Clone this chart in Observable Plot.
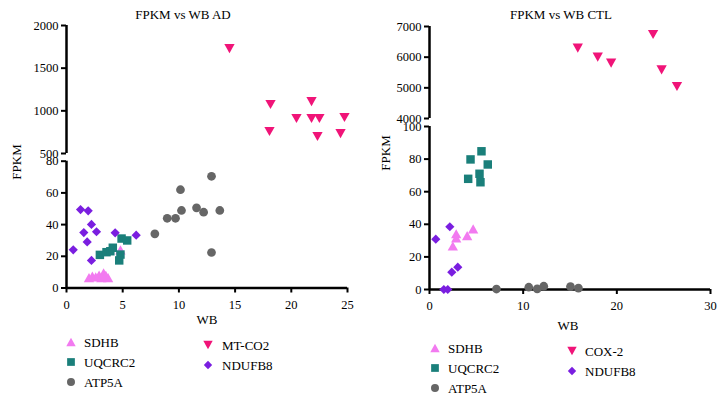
<!DOCTYPE html>
<html><head><meta charset="utf-8">
<script src="https://cdn.jsdelivr.net/npm/d3@7"></script>
<script src="https://cdn.jsdelivr.net/npm/@observablehq/plot@0.6"></script>
<style>
body{margin:0;background:#fff;}
#root{position:relative;width:724px;height:403px;font-family:'Liberation Serif','Times New Roman','DejaVu Serif',serif;color:#000;overflow:hidden;background:#fff;}
#root svg.seg{position:absolute;}
#root svg.seg text{font-family:'Liberation Serif','Times New Roman','DejaVu Serif',serif;}
.t{position:absolute;white-space:nowrap;line-height:1;}
.c{transform:translate(-50%,-50%);}
.r{transform:translate(-50%,-50%) rotate(-90deg);}
.l{transform:translate(0,-50%);}
</style>
</head><body><div id="root"></div>
<script>
// ---------- data (x = WB, y = FPKM) ----------
const adSDHB   = [[2.0,6.5],[2.3,7.5],[2.6,7],[2.9,8.2],[3.1,6.5],[3.3,9.5],[3.5,8],[3.7,6.5],[4.8,24]];
const adUQCRC2 = [[2.97,20.9],[3.56,22.6],[3.9,23.2],[4.12,25.4],[4.9,31.2],[5.4,30.0],[4.8,21.1],[4.69,17.4]];
const adATP5A  = [[12.9,70.5],[10.14,62.0],[10.23,48.9],[11.57,50.6],[12.2,47.8],[13.64,48.9],[8.96,44.0],[9.7,44.0],[7.86,34.2],[12.9,22.4]];
const adMTCO2  = [[14.5,1730],[18.15,1074],[18.06,758],[20.46,910],[21.8,1109],[21.8,910],[22.5,910],[22.33,699],[24.73,922],[24.38,734]];
const adNDUFB8 = [[0.6,24.1],[1.25,49.5],[1.93,48.7],[1.54,35.0],[1.84,29.1],[2.22,40.1],[2.67,35.5],[2.22,17.4],[4.33,34.8],[6.2,33.3]];

const ctlSDHB   = [[2.85,34.2],[2.85,31.7],[2.49,26.7],[4.02,33.1],[4.66,37.2]];
const ctlUQCRC2 = [[4.38,79.8],[5.55,84.8],[6.22,76.7],[4.13,67.9],[5.34,71.0],[5.44,65.8]];
const ctlATP5A  = [[7.15,0.3],[10.6,1.4],[11.5,0.4],[12.2,2.0],[15.05,1.8],[15.9,0.8]];
const ctlCOX2   = [[15.83,6293],[17.96,5999],[19.39,5803],[23.87,6739],[24.78,5588],[26.42,5044]];
const ctlNDUFB8 = [[0.67,30.9],[2.17,38.5],[2.38,10.6],[3.02,13.7],[1.53,0],[1.95,0]];

const adXTicks = [0,5,10,15,20,25];
const adYLowTicks = [0,20,40,60,80];
const adYHighTicks = [500,1000,1500,2000];
const ctlXTicks = [0,10,20,30];
const ctlYLowTicks = [0,20,40,60,80,100];
const ctlYHighTicks = [4000,5000,6000,7000];

const colors = {SDHB:"#f27af0", UQCRC2:"#1a7f7a", ATP5A:"#666666", MT:"#f01478", NDUFB8:"#7a1ee0"};
const FONT = "'Liberation Serif','Times New Roman','DejaVu Serif',serif";

// ---------- symbols ----------
function rOf(size){return Math.sqrt(size/Math.PI);}
const triUp = {draw(ctx,size){const r=rOf(size),w=r*1.12,h=r*2;ctx.moveTo(0,-h/2);ctx.lineTo(w,h/2);ctx.lineTo(-w,h/2);ctx.closePath();}};
const triDown = {draw(ctx,size){const r=rOf(size),w=r*1.12,h=r*2;ctx.moveTo(-w,-h/2);ctx.lineTo(w,-h/2);ctx.lineTo(0,h/2);ctx.closePath();}};
const square = {draw(ctx,size){const r=rOf(size),s=r*0.92;ctx.rect(-s,-s,2*s,2*s);}};
const circle = {draw(ctx,size){const r=rOf(size)*0.95;ctx.moveTo(r,0);ctx.arc(0,0,r,0,2*Math.PI);}};
const diamond = {draw(ctx,size){const r=rOf(size)*1.0;ctx.moveTo(0,-r);ctx.lineTo(r,0);ctx.lineTo(0,r);ctx.lineTo(-r,0);ctx.closePath();}};

const root = document.getElementById("root");

function segment(o){
  const inRange = d => d[1] >= o.yDomain[0] && d[1] <= o.yDomain[1];
  const fmt = d => String(d);
  const marks = [
    Plot.axisY(o.yTicks,{tickSize:5,tickPadding:3,strokeWidth:2,stroke:"#000",fill:"#000",label:null,tickFormat:fmt,fontFamily:FONT,fontSize:12.5}),
    Plot.ruleX([o.xDomain[0]],{stroke:"#000",strokeWidth:2.5})
  ];
  if (o.showX) {
    marks.push(Plot.axisX(o.xTicks,{tickSize:5,tickPadding:7,strokeWidth:2,stroke:"#000",fill:"#000",label:null,tickFormat:fmt,fontFamily:FONT,fontSize:12.5}));
    marks.push(Plot.ruleY([o.yDomain[0]],{stroke:"#000",strokeWidth:2.5}));
  }
  for (const s of o.series) {
    marks.push(Plot.dot(s.data.filter(inRange),{x:d=>d[0],y:d=>d[1],r:4.6,symbol:s.symbol,fill:s.color,stroke:"none"}));
  }
  const svg = Plot.plot({
    width:o.width,height:o.height,
    marginLeft:o.ml,marginRight:o.mr,marginTop:o.mt,marginBottom:o.mb,
    x:{domain:o.xDomain,axis:null},
    y:{domain:o.yDomain,axis:null},
    style:{background:"transparent",fontFamily:FONT,fontSize:"12.5px",color:"#000",overflow:"visible"},
    marks
  });
  svg.classList.add("seg");
  svg.style.left=o.left+"px"; svg.style.top=o.top+"px";
  root.appendChild(svg);
}

function text(str,x,y,cls,size){
  const d=document.createElement("div");
  d.className="t "+cls; d.textContent=str;
  d.style.left=x+"px"; d.style.top=y+"px"; d.style.fontSize=(size||12.5)+"px";
  root.appendChild(d);
}

function legendItem(label,color,symbol,x,y,tx){
  const p=d3.path(); symbol.draw(p,Math.PI*4.2*4.2);
  const svg=d3.create("svg").attr("width",14).attr("height",14)
    .style("position","absolute").style("left",(x-7)+"px").style("top",(y-7)+"px");
  svg.append("path").attr("transform","translate(7,7)").attr("d",p.toString()).attr("fill",color);
  root.appendChild(svg.node());
  text(label,tx,y,"l",13);
}

// ---------- left panel: AD ----------
const adSeries = [
  {data:adSDHB,color:colors.SDHB,symbol:triUp},
  {data:adUQCRC2,color:colors.UQCRC2,symbol:square},
  {data:adATP5A,color:colors.ATP5A,symbol:circle},
  {data:adMTCO2,color:colors.MT,symbol:triDown},
  {data:adNDUFB8,color:colors.NDUFB8,symbol:diamond}
];
segment({left:0,top:0,width:360,height:160,ml:66,mr:13,mt:25,mb:7,xDomain:[0,25],xTicks:adXTicks,yDomain:[500,2000],yTicks:adYHighTicks,showX:false,series:adSeries});
segment({left:0,top:150,width:360,height:170,ml:66,mr:13,mt:10.7,mb:32.5,xDomain:[0,25],xTicks:adXTicks,yDomain:[0,80],yTicks:adYLowTicks,showX:true,series:adSeries});
text("FPKM vs WB AD",183,14,"c",13);
text("FPKM",16,162,"r",13);
text("WB",207,319,"c",13);
legendItem("SDHB",colors.SDHB,triUp,71,342,84);
legendItem("UQCRC2",colors.UQCRC2,square,71,362,84);
legendItem("ATP5A",colors.ATP5A,circle,71,382,84);
legendItem("MT-CO2",colors.MT,triDown,208,345,222);
legendItem("NDUFB8",colors.NDUFB8,diamond,208,365,222);

// ---------- right panel: CTL ----------
const ctlSeries = [
  {data:ctlSDHB,color:colors.SDHB,symbol:triUp},
  {data:ctlUQCRC2,color:colors.UQCRC2,symbol:square},
  {data:ctlATP5A,color:colors.ATP5A,symbol:circle},
  {data:ctlCOX2,color:colors.MT,symbol:triDown},
  {data:ctlNDUFB8,color:colors.NDUFB8,symbol:diamond}
];
segment({left:360,top:0,width:364,height:122,ml:69,mr:14,mt:26,mb:4,xDomain:[0,30],xTicks:ctlXTicks,yDomain:[4000,7000],yTicks:ctlYHighTicks,showX:false,series:ctlSeries});
segment({left:360,top:116,width:364,height:205,ml:69,mr:14,mt:10,mb:32,xDomain:[0,30],xTicks:ctlXTicks,yDomain:[0,100],yTicks:ctlYLowTicks,showX:true,series:ctlSeries});
text("FPKM vs WB CTL",561,14,"c",13);
text("FPKM",385,153,"r",13);
text("WB",568,325,"c",13);
legendItem("SDHB",colors.SDHB,triUp,435,348,448);
legendItem("UQCRC2",colors.UQCRC2,square,435,367.5,448);
legendItem("ATP5A",colors.ATP5A,circle,435,388,448);
legendItem("COX-2",colors.MT,triDown,572,351,585);
legendItem("NDUFB8",colors.NDUFB8,diamond,572,371,585);
</script>
</body></html>
